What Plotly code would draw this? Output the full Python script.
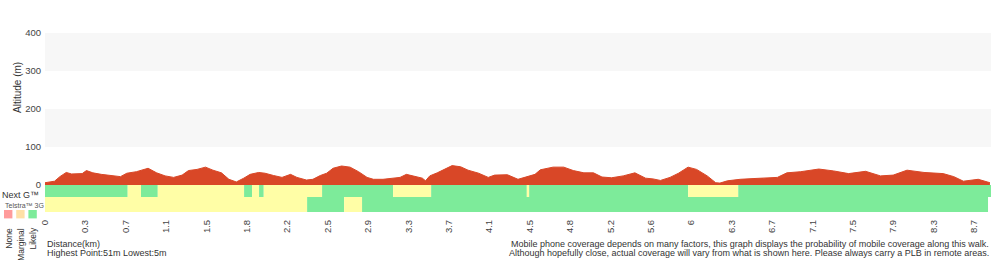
import plotly.graph_objects as go

# ---------------- data ----------------
dist_km = [0.00, 0.09, 0.14, 0.20, 0.25, 0.35, 0.39, 0.45, 0.53, 0.63, 0.71, 0.77, 0.86, 0.97,
           1.05, 1.13, 1.21, 1.29, 1.35, 1.43, 1.51, 1.58, 1.66, 1.73, 1.80, 1.87, 1.93, 2.01,
           2.07, 2.15, 2.23, 2.31, 2.37, 2.46, 2.52, 2.59, 2.65, 2.71, 2.79, 2.87, 2.95, 3.03,
           3.09, 3.18, 3.28, 3.34, 3.40, 3.47, 3.55, 3.58, 3.62, 3.69, 3.75, 3.83, 3.91, 3.98,
           4.08, 4.17, 4.23, 4.35, 4.45, 4.53, 4.61, 4.66, 4.78, 4.88, 4.97, 5.07, 5.16, 5.24,
           5.33, 5.44, 5.55, 5.65, 5.72, 5.79, 5.88, 5.96, 6.05, 6.13, 6.23, 6.31, 6.35, 6.42,
           6.54, 6.67, 6.79, 6.89, 6.98, 7.11, 7.28, 7.42, 7.56, 7.72, 7.86, 7.98, 8.11, 8.27,
           8.45, 8.55, 8.64, 8.78, 8.89]
alt_m = [6, 10, 22, 33, 29, 30, 38, 32, 28, 25, 22, 31, 35, 44,
         32, 24, 20, 26, 38, 41, 47, 39, 32, 15, 8, 18, 28, 33,
         31, 25, 20, 28, 20, 13, 15, 25, 31, 44, 50, 47, 35, 20,
         15, 15, 17, 20, 28, 24, 18, 11, 24, 32, 41, 51, 48, 39,
         31, 20, 26, 27, 15, 22, 28, 40, 47, 47, 38, 32, 32, 21,
         19, 24, 32, 18, 16, 12, 20, 31, 47, 41, 24, 6, 5, 11,
         15, 17, 18, 20, 32, 35, 42, 37, 30, 36, 24, 26, 39, 33,
         30, 22, 10, 15, 6]

x_tick_labels = ["0", "0.3", "0.7", "1.1", "1.5", "1.8", "2.2", "2.5", "2.9", "3.3", "3.7", "4.1",
                 "4.5", "4.8", "5.2", "5.6", "6", "6.3", "6.7", "7.1", "7.5", "7.9", "8.3", "8.7"]
tick_step_km = 0.38
y_ticks = [0, 100, 200, 300, 400]

nextg_start = [0.000, 0.778, 0.903, 1.061, 1.873, 1.948, 2.014, 2.058, 2.607, 3.275, 3.633, 4.533, 4.555, 6.051, 6.522]
nextg_end   = [0.778, 0.903, 1.061, 1.873, 1.948, 2.014, 2.058, 2.607, 3.275, 3.633, 4.533, 4.555, 6.051, 6.522, 8.900]
nextg_level = ["Likely", "Marginal", "Likely", "Marginal", "Likely", "Marginal", "Likely", "Marginal",
               "Likely", "Marginal", "Likely", "Marginal", "Likely", "Marginal", "Likely"]

g3_start = [0.000, 2.466, 2.814, 2.983]
g3_end   = [2.466, 2.814, 2.983, 8.872]
g3_level = ["Marginal", "Likely", "Marginal", "Likely"]

legend_levels = ["None", "Marginal", "Likely"]

# ---------------- styles ----------------
BAR_COL = {"None": "#ff9b9b", "Marginal": "#fffea6", "Likely": "#7deb9a"}
LEG_COL = {"None": "#ff9b9b", "Marginal": "#ffe0a6", "Likely": "#7deb9a"}
RED = "#d94727"
FONT = "Liberation Sans, Arial, Helvetica, sans-serif"
TXT = "#333333"

W, H = 1000, 260
L, R, T, B = 45, 9, 33, 48
PW, PH = W - L - R, H - T - B


def px_x(px):
    return (px - L) / PW


def px_y(py):
    return (H - B - py) / PH


cov_top = px_y(185)

fig = go.Figure()

# elevation
fig.add_trace(go.Scatter(x=dist_km, y=alt_m, mode="lines", fill="tozeroy",
                         fillcolor=RED, line=dict(color=RED, width=1),
                         xaxis="x2", yaxis="y2", hoverinfo="skip", showlegend=False))

# coverage rows
def add_row(starts, ends, levels, ycen, thick):
    fig.add_trace(go.Bar(
        orientation="h",
        base=starts,
        x=[e - s for s, e in zip(starts, ends)],
        y=[ycen] * len(starts),
        width=[thick] * len(starts),
        marker=dict(color=[BAR_COL[l] for l in levels], line=dict(width=0)),
        xaxis="x", yaxis="y", showlegend=False, hoverinfo="skip"))


add_row(nextg_start, nextg_end, nextg_level, 21, 12)
add_row(g3_start, g3_end, g3_level, 7.5, 15)

xmax = max(nextg_end)

shapes = []
# alternating bands
for lo, hi in [(100, 200), (300, 400)]:
    shapes.append(dict(type="rect", xref="paper", yref="y2", x0=0, x1=1, y0=lo, y1=hi,
                       fillcolor="#f7f7f7", line=dict(width=0), layer="below"))
# legend squares
for i, lev in enumerate(legend_levels):
    x0 = 4 + i * 12.2
    shapes.append(dict(type="rect", xref="paper", yref="paper",
                       x0=px_x(x0), x1=px_x(x0 + 8.4), y0=px_y(210), y1=px_y(218.4),
                       fillcolor=LEG_COL[lev], line=dict(width=0)))

annotations = [
    dict(text="Altitude (m)", x=px_x(17), y=px_y(88), textangle=-90, showarrow=False,
         xref="paper", yref="paper", xanchor="center", yanchor="middle",
         font=dict(size=10, color=TXT, family=FONT)),
    dict(text="Next G™", x=px_x(0), y=px_y(194.5), showarrow=False, xref="paper", yref="paper",
         xanchor="left", yanchor="middle", font=dict(size=9, color=TXT, family=FONT)),
    dict(text="Telstra™ 3G", x=px_x(3), y=px_y(205), showarrow=False, xref="paper", yref="paper",
         xanchor="left", yanchor="middle", font=dict(size=7, color="#555555", family=FONT)),
    dict(text="Distance(km)", x=px_x(45), y=px_y(243.5), showarrow=False, xref="paper", yref="paper",
         xanchor="left", yanchor="middle", font=dict(size=9, color=TXT, family=FONT)),
    dict(text="Highest Point:51m Lowest:5m", x=px_x(45), y=px_y(252.5), showarrow=False,
         xref="paper", yref="paper", xanchor="left", yanchor="middle",
         font=dict(size=9, color=TXT, family=FONT)),
    dict(text="Mobile phone coverage depends on many factors, this graph displays the probability of mobile coverage along this walk.",
         x=px_x(991), y=px_y(243.5), showarrow=False, xref="paper", yref="paper",
         xanchor="right", yanchor="middle", font=dict(size=9, color=TXT, family=FONT)),
    dict(text="Although hopefully close, actual coverage will vary from what is shown here. Please always carry a PLB in remote areas.",
         x=px_x(991), y=px_y(252.5), showarrow=False, xref="paper", yref="paper",
         xanchor="right", yanchor="middle", font=dict(size=9, color=TXT, family=FONT)),
]
for i, lev in enumerate(legend_levels):
    annotations.append(dict(text=lev, x=px_x(8.2 + i * 12.2), y=px_y(226), textangle=-90,
                            showarrow=False, xref="paper", yref="paper",
                            xanchor="center", yanchor="top",
                            font=dict(size=8.5, color=TXT, family=FONT)))

fig.update_layout(
    width=W, height=H,
    margin=dict(l=L, r=R, t=T, b=B, pad=0),
    paper_bgcolor="white", plot_bgcolor="white",
    barmode="overlay",
    font=dict(family=FONT, color=TXT),
    xaxis=dict(domain=[0, 1], range=[0, xmax], showgrid=False, zeroline=False, showline=False,
               tickmode="array", tickvals=[i * tick_step_km for i in range(len(x_tick_labels))],
               ticktext=x_tick_labels, tickangle=-90, ticks="", ticklabelstandoff=5,
               tickfont=dict(size=9.5, color="#444444", family=FONT), fixedrange=True),
    yaxis=dict(domain=[0, cov_top], range=[0, 27], visible=False, fixedrange=True),
    xaxis2=dict(domain=[0, 1], range=[0, xmax], visible=False, anchor="y2", fixedrange=True),
    yaxis2=dict(domain=[cov_top, 1], range=[0, 400], anchor="x2", showgrid=False, zeroline=False,
                showline=False, ticks="", tickmode="array", tickvals=y_ticks, ticklabelstandoff=3,
                tickfont=dict(size=9.5, color="#444444", family=FONT), fixedrange=True),
    shapes=shapes,
    annotations=annotations,
    showlegend=False,
)

fig.write_html("out.html")
